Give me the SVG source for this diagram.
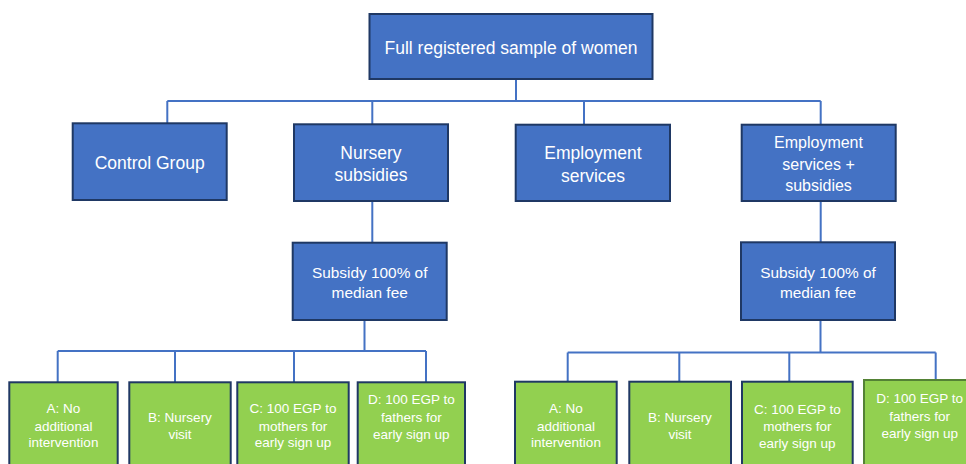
<svg xmlns="http://www.w3.org/2000/svg" width="966" height="464" viewBox="0 0 966 464">
<style>
  .blue { fill: #4472c4; stroke: #1f3864; stroke-width: 2; }
  .green { fill: #92d050; stroke: #203864; stroke-width: 2; }
  .green2 { fill: #92d050; stroke: #548235; stroke-width: 2; }
  .t { font-family: "Liberation Sans", Arial, sans-serif; fill: #ffffff; text-anchor: middle; }
  .big { font-size: 17.5px; }
  .mid { font-size: 16px; }
  .sub { font-size: 15.4px; }
  .sm { font-size: 13.5px; }
  .conn { fill: none; stroke: #4472c4; stroke-width: 2; }
</style>
<rect width="966" height="464" fill="#ffffff"/>
<g id="connectors">
  <path class="conn" d="M516,79 V101 M167.3,101 H820.7 M167.3,101 V124 M372.3,101 V125 M584,101 V125 M820.7,101 V125"/>
  <path class="conn" d="M372.3,201 V243 M820.7,201 V243"/>
  <path class="conn" d="M364.5,320 V351 M57.7,351 H426 M57.7,351 V382 M175,351 V382 M294,351 V382 M426,351 V382"/>
  <path class="conn" d="M820.5,320 V352.5 M567.7,352.5 H935.7 M567.7,352.5 V382 M679.3,352.5 V382 M789.3,352.5 V382 M935.7,352.5 V380"/>
</g>
<g id="root">
  <rect class="blue" x="369.5" y="14" width="283" height="65"/>
  <text class="t big" x="511" y="54">Full registered sample of women</text>
</g>
<g id="control">
  <rect class="blue" x="72.7" y="123.3" width="154" height="76.7"/>
  <text class="t big" x="149.7" y="169">Control Group</text>
</g>
<g id="nursery">
  <rect class="blue" x="294" y="124.3" width="154" height="76.7"/>
  <text class="t big" x="371" y="159">Nursery</text>
  <text class="t big" x="371" y="181">subsidies</text>
</g>
<g id="employment">
  <rect class="blue" x="515.7" y="124.7" width="154.3" height="76.3"/>
  <text class="t big" x="593" y="159">Employment</text>
  <text class="t big" x="593" y="181.5">services</text>
</g>
<g id="empsub">
  <rect class="blue" x="741.7" y="124.7" width="154" height="76.3"/>
  <text class="t mid" x="818.5" y="148.3">Employment</text>
  <text class="t mid" x="818.5" y="170">services +</text>
  <text class="t mid" x="818.5" y="191">subsidies</text>
</g>
<g id="subsidy1">
  <rect class="blue" x="292.7" y="242.7" width="154" height="77.3"/>
  <text class="t sub" x="369.7" y="277.7">Subsidy 100% of</text>
  <text class="t sub" x="369.7" y="298">median fee</text>
</g>
<g id="subsidy2">
  <rect class="blue" x="741" y="242.3" width="154" height="77.7"/>
  <text class="t sub" x="818" y="277.7">Subsidy 100% of</text>
  <text class="t sub" x="818" y="298">median fee</text>
</g>
<g id="a1">
  <rect class="green" x="9.3" y="382.3" width="108.4" height="100"/>
  <text class="t sm" x="63.5" y="413.3">A: No</text>
  <text class="t sm" x="63.5" y="430.5">additional</text>
  <text class="t sm" x="63.5" y="447.3">intervention</text>
</g>
<g id="b1">
  <rect class="green" x="129.3" y="382.3" width="101.4" height="100"/>
  <text class="t sm" x="180" y="421.7">B: Nursery</text>
  <text class="t sm" x="180" y="439">visit</text>
</g>
<g id="c1">
  <rect class="green" x="237.3" y="382.3" width="111.4" height="100"/>
  <text class="t sm" x="293" y="413.3">C: 100 EGP to</text>
  <text class="t sm" x="293" y="430.5">mothers for</text>
  <text class="t sm" x="293" y="447.3">early sign up</text>
</g>
<g id="d1">
  <rect class="green" x="357.7" y="382.3" width="107.3" height="100"/>
  <text class="t sm" x="411.3" y="404">D: 100 EGP to</text>
  <text class="t sm" x="411.3" y="421.7">fathers for</text>
  <text class="t sm" x="411.3" y="439">early sign up</text>
</g>
<g id="a2">
  <rect class="green" x="515" y="381.7" width="101.7" height="100"/>
  <text class="t sm" x="566" y="413.3">A: No</text>
  <text class="t sm" x="566" y="430.5">additional</text>
  <text class="t sm" x="566" y="447.3">intervention</text>
</g>
<g id="b2">
  <rect class="green" x="629.3" y="381.7" width="101.7" height="100"/>
  <text class="t sm" x="680" y="421.7">B: Nursery</text>
  <text class="t sm" x="680" y="439">visit</text>
</g>
<g id="c2">
  <rect class="green" x="742" y="381.7" width="110.7" height="100"/>
  <text class="t sm" x="797.3" y="414">C: 100 EGP to</text>
  <text class="t sm" x="797.3" y="431">mothers for</text>
  <text class="t sm" x="797.3" y="448.3">early sign up</text>
</g>
<g id="d2">
  <rect class="green2" x="864" y="380" width="112" height="100"/>
  <text class="t sm" x="919.7" y="403.3">D: 100 EGP to</text>
  <text class="t sm" x="919.7" y="421">fathers for</text>
  <text class="t sm" x="919.7" y="438">early sign up</text>
</g>
</svg>
